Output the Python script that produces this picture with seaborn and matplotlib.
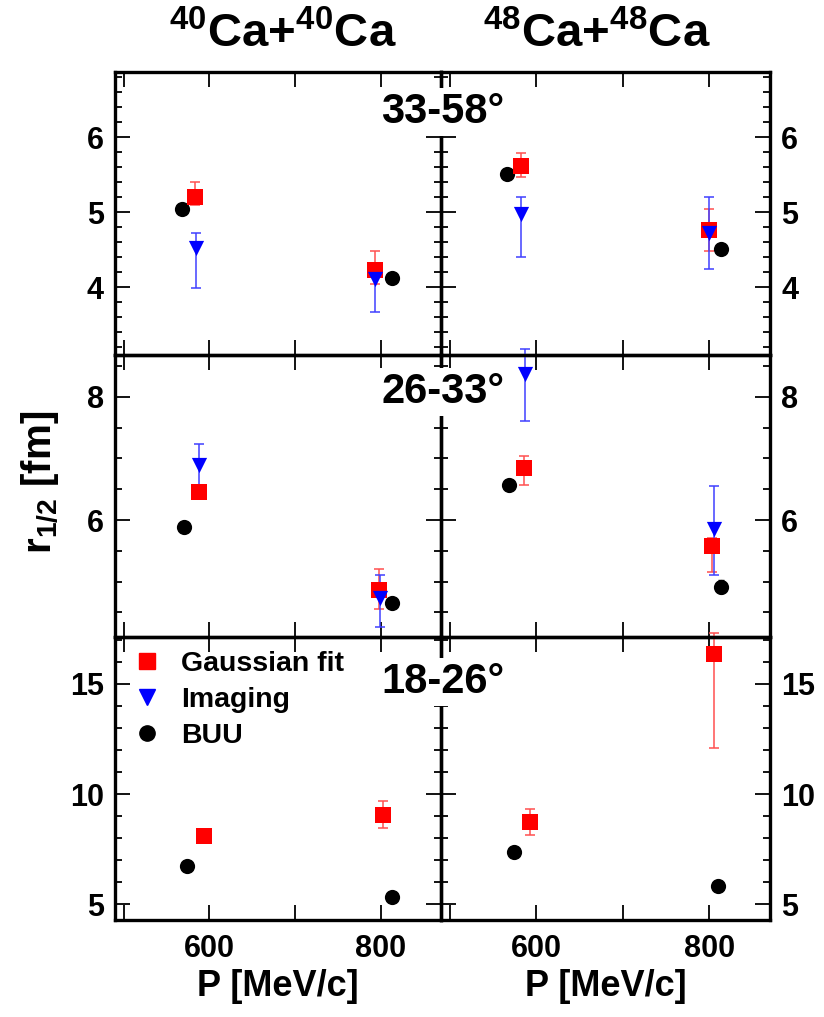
import matplotlib
matplotlib.use("Agg")
import numpy as np
import pandas as pd
import matplotlib.pyplot as plt
import seaborn as sns
from matplotlib.lines import Line2D
from matplotlib.ticker import MultipleLocator, FixedLocator

# data, indexed [row][col] -> points
# rows: 33-58, 26-33, 18-26 deg ; cols: 40Ca+40Ca, 48Ca+48Ca
angles = ["33-58°", "26-33°", "18-26°"]
systems = [r"$^{40}$Ca+$^{40}$Ca", r"$^{48}$Ca+$^{48}$Ca"]

gauss_p = [[[583, 793], [582, 800]], [[588, 798], [586, 803]], [[594, 802], [593, 805]]]
gauss_r = [[[5.21, 4.23], [5.62, 4.76]], [[6.46, 4.87], [6.85, 5.57]], [[8.10, 9.03], [8.75, 16.37]]]
gauss_lo = [[[5.10, 4.05], [5.47, 4.48]], [[6.38, 4.56], [6.57, 5.16]], [[7.95, 8.45], [8.14, 12.09]]]
gauss_hi = [[[5.40, 4.48], [5.79, 5.05]], [[6.55, 5.21], [7.04, 5.70]], [[8.25, 9.69], [9.30, 17.3]]]

img_p = [[[584, 793], [582, 800]], [[588, 799], [587, 805]], [[], []]]
img_r = [[[4.52, 4.11], [4.98, 4.73]], [[6.89, 4.73], [8.37, 5.85]], [[], []]]
img_lo = [[[3.99, 3.67], [4.41, 4.25]], [[6.38, 4.27], [7.61, 5.10]], [[], []]]
img_hi = [[[4.73, 4.28], [5.20, 5.21]], [[7.24, 5.10], [8.78, 6.55]], [[], []]]

buu_p = [[[568, 813], [566, 813]], [[570, 813], [569, 813]], [[574, 813], [574, 810]]]
buu_r = [[[5.045, 4.13], [5.51, 4.51]], [[5.89, 4.66], [6.57, 4.92]], [[6.73, 5.33], [7.35, 5.82]]]
buu_err = [[[0.03, 0.03], [0.06, 0.03]], [[0.05, 0.04], [0.05, 0.1]], [[0.1, 0.1], [0.1, 0.1]]]

ylims = [(3.1, 6.87), (4.1, 8.68), (4.28, 17.13)]
ymajor = [1, 2, 5]
yminor = [0.2, 0.5, 1]
xlim = (490, 870)

sns.set_theme(style="ticks")
plt.rcParams["font.family"] = ["Liberation Sans", "DejaVu Sans"]
plt.rcParams["font.weight"] = "bold"
plt.rcParams["mathtext.fontset"] = "custom"
plt.rcParams["mathtext.rm"] = "Liberation Sans:bold"
plt.rcParams["mathtext.it"] = "Liberation Sans:bold"
plt.rcParams["mathtext.bf"] = "Liberation Sans:bold"
plt.rcParams["mathtext.default"] = "rm"
for key in ["text.color", "axes.labelcolor", "xtick.color", "ytick.color",
            "xtick.labelcolor", "ytick.labelcolor"]:
    plt.rcParams[key] = "black"

colors = {"Gaussian fit": "#ff0000", "Imaging": "#0000ff", "BUU": "#000000"}
markers = {"Gaussian fit": "s", "Imaging": "v", "BUU": "o"}
ecolors = {"Gaussian fit": "#ff5050", "Imaging": "#4040ff", "BUU": "#000000"}

W, H = 824, 1017
fig = plt.figure(figsize=(W / 100, H / 100), dpi=100)

col_x = [(115, 441), (441, 770)]
row_y = [(72, 355), (355, 637), (637, 920)]

for r in range(3):
    for c in range(2):
        x0, x1 = col_x[c]
        y0, y1 = row_y[r]
        ax = fig.add_axes([x0 / W, 1 - y1 / H, (x1 - x0) / W, (y1 - y0) / H])
        ax.set_facecolor("none")

        rows = []
        sets = [("Gaussian fit", gauss_p, gauss_r, gauss_lo, gauss_hi),
                ("Imaging", img_p, img_r, img_lo, img_hi)]
        for name, P, R, LO, HI in sets:
            p = np.array(P[r][c], float)
            v = np.array(R[r][c], float)
            if len(p) == 0:
                continue
            lo = np.array(LO[r][c]); hi = np.array(HI[r][c])
            eb = ax.errorbar(p, v, yerr=[v - lo, hi - v], fmt="none", ecolor=ecolors[name],
                             elinewidth=1.1, capsize=3.5, capthick=1.1, zorder=2)
            for art in eb.lines[1] + eb.lines[2]:
                art.set_clip_on(False)
            for pi, vi in zip(p, v):
                rows.append({"p": pi, "r": vi, "method": name})
        p = np.array(buu_p[r][c], float)
        v = np.array(buu_r[r][c], float)
        e = np.array(buu_err[r][c], float)
        ax.errorbar(p, v, yerr=e, fmt="none", ecolor="black", elinewidth=1.0, capsize=2, zorder=2)
        for pi, vi in zip(p, v):
            rows.append({"p": pi, "r": vi, "method": "BUU"})

        df = pd.DataFrame(rows)
        for name in ["BUU", "Gaussian fit", "Imaging"]:
            sub = df[df["method"] == name]
            if len(sub) == 0:
                continue
            sns.scatterplot(data=sub, x="p", y="r", color=colors[name], marker=markers[name],
                            s=120, linewidth=0, legend=False, ax=ax, zorder=3)

        ax.set_xlim(*xlim)
        ax.set_ylim(*ylims[r])
        ax.xaxis.set_major_locator(FixedLocator([500, 600, 700, 800]))
        ax.yaxis.set_major_locator(MultipleLocator(ymajor[r]))
        ax.yaxis.set_minor_locator(MultipleLocator(yminor[r]))
        ax.set_xlabel("")
        ax.set_ylabel("")
        ax.tick_params(which="both", direction="in", top=True, right=True, width=1.3,
                       color="black", labelcolor="black")
        ax.tick_params(which="major", length=11)
        ax.tick_params(which="minor", length=5)
        ax.tick_params(axis="y", labelsize=22, labelleft=(c == 0), labelright=(c == 1), pad=8)
        ax.tick_params(axis="x", labelsize=22, labelbottom=(r == 2), pad=10)
        if r == 2:
            ax.set_xticklabels(["", "600", "", "800"])
            ax.set_xlabel("P [MeV/c]", fontsize=26, fontweight="bold", labelpad=4, color="black")
        for sp in ax.spines.values():
            sp.set_linewidth(2.4)
            sp.set_color("black")

        if r == 2 and c == 0:
            handles = [Line2D([], [], linestyle="none", marker=markers[n], color=colors[n],
                              markersize=11) for n in ["Gaussian fit", "Imaging", "BUU"]]
            ax.legend(handles, ["Gaussian fit", "Imaging", "BUU"], loc="upper left",
                      bbox_to_anchor=(-0.077, 1.052), frameon=False,
                      handletextpad=0.2, labelspacing=0.35, borderpad=0.5,
                      prop={"weight": "bold", "size": 20.5})

# angle labels centred on the middle boundary, with white box
for r, lab in enumerate(angles):
    yc = [112, 392, 682][r]
    fig.text(443 / W, 1 - yc / H, lab, ha="center", va="center", fontsize=30,
             fontweight="bold", zorder=10,
             bbox=dict(facecolor="white", edgecolor="none", pad=3))

fig.text(283 / W, 1 - 35 / H, systems[0], ha="center", va="center", fontsize=34, fontweight="bold")
fig.text(597 / W, 1 - 35 / H, systems[1], ha="center", va="center", fontsize=34, fontweight="bold")
fig.text(40 / W, 1 - 482 / H, r"r$_{1/2}$ [fm]", ha="center", va="center", rotation=90,
         fontsize=29, fontweight="bold")

fig.savefig("out.png", dpi=100, facecolor="white")
